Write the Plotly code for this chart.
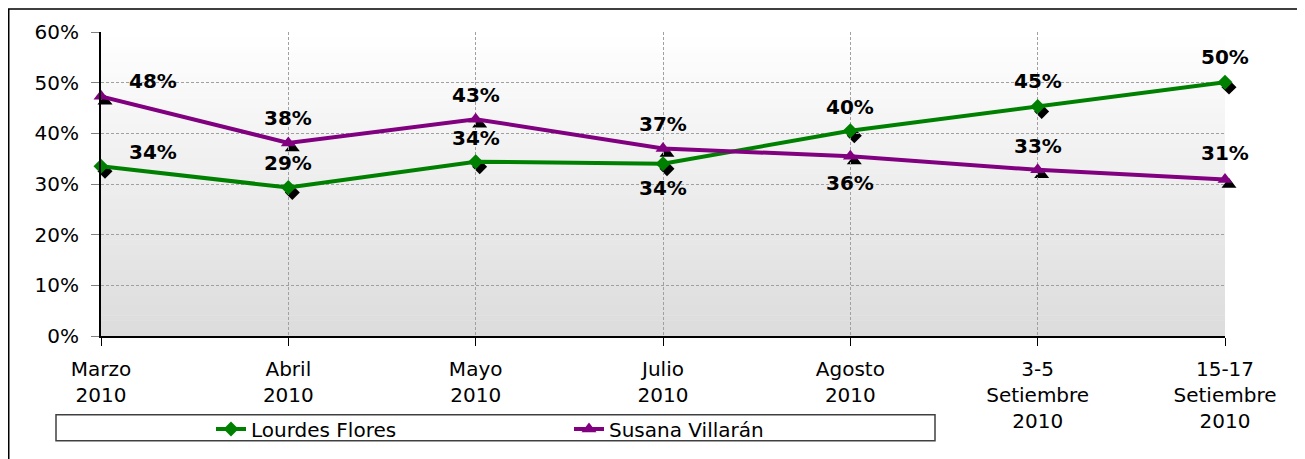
import plotly.graph_objects as go

# ---- data ----
categories = ["Marzo<br>2010", "Abril<br>2010", "Mayo<br>2010", "Julio<br>2010",
              "Agosto<br>2010", "3-5<br>Setiembre<br>2010", "15-17<br>Setiembre<br>2010"]
lourdes = [33.5, 29.3, 34.4, 34.0, 40.5, 45.3, 50.1]
susana = [47.3, 38.1, 42.8, 37.0, 35.5, 32.8, 30.9]
lourdes_labels = ["34%", "29%", "34%", "34%", "40%", "45%", "50%"]
susana_labels = ["48%", "38%", "43%", "37%", "36%", "33%", "31%"]
y_ticks = [0, 10, 20, 30, 40, 50, 60]
y_tick_labels = ["0%", "10%", "20%", "30%", "40%", "50%", "60%"]

# label placement (pixels): above (+) / below (-), and horizontal shift
lourdes_dy = [14, 25, 24, -24, 24, 25, 25]
lourdes_dx = [52, 0, 0, 0, 0, 0, 0]
susana_dy = [15, 25, 24, 25, -27, 24, 26]
susana_dx = [52, 0, 0, 0, 0, 0, 0]

GREEN = "#008000"
PURPLE = "#800080"

# page has an 8px body margin, so the figure is drawn from (8, 8)
OFF = 8
W, H = 1305 - OFF, 459 - OFF
ML, MR, MT, MB = 101 - OFF, 76, 32 - OFF, 117
PW = W - ML - MR
PH = H - MT - MB
SX, SY = 4, 5  # shadow offset in pixels

x_idx = list(range(len(categories)))

fig = go.Figure()

# shadow traces (subplot xy, offset)
fig.add_trace(go.Scatter(x=x_idx, y=lourdes, mode="markers", xaxis="x", yaxis="y",
                         marker=dict(symbol="diamond", size=11.5, color="black"),
                         showlegend=False, hoverinfo="skip", cliponaxis=False))
fig.add_trace(go.Scatter(x=x_idx, y=susana, mode="markers", xaxis="x", yaxis="y",
                         marker=dict(symbol="triangle-up", size=13, color="black"),
                         showlegend=False, hoverinfo="skip", cliponaxis=False))

# main traces (subplot x2y2)
fig.add_trace(go.Scatter(x=x_idx, y=lourdes, mode="lines+markers", name="Lourdes Flores",
                         xaxis="x2", yaxis="y2",
                         line=dict(color=GREEN, width=4),
                         marker=dict(symbol="diamond", size=11.5, color=GREEN),
                         cliponaxis=False))
fig.add_trace(go.Scatter(x=x_idx, y=susana, mode="lines+markers", name="Susana Villarán",
                         xaxis="x2", yaxis="y2",
                         line=dict(color=PURPLE, width=4),
                         marker=dict(symbol="triangle-up", size=13, color=PURPLE),
                         cliponaxis=False))

annotations = []
for vals, labs, dys, dxs in [(lourdes, lourdes_labels, lourdes_dy, lourdes_dx),
                             (susana, susana_labels, susana_dy, susana_dx)]:
    for i, (v, t, dy, dx) in enumerate(zip(vals, labs, dys, dxs)):
        annotations.append(dict(x=i, y=v, xref="x2", yref="y2", text="<b>%s</b>" % t,
                                showarrow=False, xshift=dx, yshift=dy,
                                font=dict(family="DejaVu Sans", size=20, color="black")))

# gradient background as horizontal bands (paper coords of main plot area)
x0p, x1p = 0, (PW - SX) / PW
y0p, y1p = SY / PH, 1
shapes = []
n = 60
for k in range(n):
    f0 = k / n
    f1 = (k + 1) / n
    fm = (f0 + f1) / 2  # 0 bottom -> 1 top
    c = int(round(220 + (255 - 220) * fm))
    shapes.append(dict(type="rect", xref="paper", yref="paper", layer="below",
                       x0=x0p, x1=x1p, y0=y0p + (y1p - y0p) * f0, y1=y0p + (y1p - y0p) * f1 + 0.002,
                       fillcolor="rgb(%d,%d,%d)" % (c, c, c), line=dict(width=0)))

# helpers: page pixel -> paper coords
def px_x(px):
    return (px - OFF - ML) / PW

def px_y(py):
    return (H - MB - (py - OFF)) / PH

# outer chart border
shapes.append(dict(type="rect", xref="paper", yref="paper", layer="above",
                   x0=px_x(8.75), x1=px_x(1330), y0=px_y(480), y1=px_y(9),
                   line=dict(color="black", width=1.5), fillcolor="rgba(0,0,0,0)"))
# legend box
shapes.append(dict(type="rect", xref="paper", yref="paper", layer="below",
                   x0=px_x(56), x1=px_x(935), y0=px_y(442), y1=px_y(416),
                   line=dict(color="#404040", width=1.5), fillcolor="white"))

font_main = dict(family="DejaVu Sans", size=20, color="black")

fig.update_layout(
    width=W, height=H,
    margin=dict(l=ML, r=MR, t=MT, b=MB),
    paper_bgcolor="white",
    plot_bgcolor="rgba(0,0,0,0)",
    font=font_main,
    shapes=shapes,
    annotations=annotations,
    showlegend=True,
    legend=dict(orientation="h", x=px_x(211), y=px_y(429), xanchor="left", yanchor="middle",
                bgcolor="rgba(0,0,0,0)", borderwidth=0,
                font=dict(family="DejaVu Sans", size=20, color="black"),
                entrywidth=313, entrywidthmode="pixels"),
    xaxis=dict(domain=[SX / PW, 1], range=[0, 6], visible=False, fixedrange=True),
    yaxis=dict(domain=[0, (PH - SY) / PH], range=[0, 60], visible=False, fixedrange=True),
    xaxis2=dict(domain=[0, (PW - SX) / PW], range=[0, 6], anchor="y2",
                tickmode="array", tickvals=x_idx, ticktext=categories,
                showgrid=True, gridcolor="#a0a0a0", griddash="3px,2px", gridwidth=1,
                showline=True, linecolor="black", linewidth=2,
                ticks="outside", ticklen=8, tickcolor="black", tickwidth=1,
                ticklabelstandoff=6, tickfont=font_main, zeroline=False),
    yaxis2=dict(domain=[SY / PH, 1], range=[0, 60], anchor="x2",
                tickmode="array", tickvals=y_ticks, ticktext=y_tick_labels,
                showgrid=True, gridcolor="#a0a0a0", griddash="3px,2px", gridwidth=1,
                showline=True, linecolor="black", linewidth=2,
                ticks="outside", ticklen=8, tickcolor="#808080", tickwidth=1,
                ticklabelstandoff=8, tickfont=font_main, zeroline=False),
)

fig.write_html("out.html")
